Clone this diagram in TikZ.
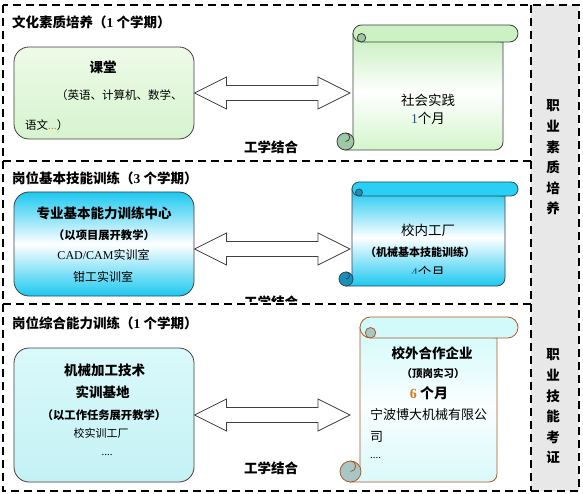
\documentclass[tikz,border=0pt]{standalone}
\usepackage{fontspec}
\setmainfont{Noto Sans CJK SC}
\newfontfamily\lat{Liberation Serif}
\usetikzlibrary{calc}
\definecolor{edge}{HTML}{404040}
\definecolor{colgray}{HTML}{E8E8E8}
\definecolor{gA}{HTML}{EEFAE8}
\definecolor{gB}{HTML}{D6F4CE}
\definecolor{gbar}{HTML}{CCF2C4}
\definecolor{gbody}{HTML}{C4EEBC}
\definecolor{gbody2}{HTML}{D4F5CC}
\definecolor{gcurl}{HTML}{9CC8A2}
\definecolor{cy}{HTML}{1CC8F0}
\definecolor{cybar}{HTML}{28D0F6}
\definecolor{cycurl}{HTML}{1890B8}
\definecolor{cyedge}{HTML}{304858}
\definecolor{pcA}{HTML}{DAF9FA}
\definecolor{pcB}{HTML}{C4F1F5}
\definecolor{pbar}{HTML}{D2FAFA}
\definecolor{pcurl}{HTML}{A8C6C6}
\definecolor{brownedge}{HTML}{B05A28}
\definecolor{numblue}{HTML}{1E4E8C}
\definecolor{numorange}{HTML}{D87A1A}
\tikzset{
  dline/.style={line width=1.8pt, dash pattern=on 8pt off 5pt},
  lbox/.style={draw=edge, line width=0.8pt, rounded corners=15pt, minimum width=180pt, inner sep=0pt},
  hd/.style={font=\fontsize{13.5}{16}\selectfont\bfseries, inner sep=0pt},
  sub/.style={font=\fontsize{11.3}{14}\selectfont\bfseries, inner sep=0pt},
  txt/.style={font=\fontsize{12}{14}\selectfont, inner sep=0pt},
  big/.style={font=\fontsize{13.5}{16}\selectfont, inner sep=0pt},
  arr/.style={draw=edge, fill=white, line width=0.8pt},
  vert/.style={font=\fontsize{13.5}{20.6}\selectfont\bfseries, align=center, inner sep=0pt},
  hole/.style={inner sep=0pt, outer sep=0pt},
}
% scroll: #1 Lb, #2 R, #3 T, #4 B, #5 d, #6 Rb
\newcommand\myscroll[6]{%
  \pgfmathsetmacro\sr{#5/2}%
  \pgfmathsetmacro\scx{#1-\sr+1}%
  \path[scbody] (#1,#3+\sr) -- (#1,#4-\sr) -- (\scx,#4) -- (#6-8,#4)
     arc[start angle=90,end angle=0,radius=8] -- (#6,#3+#5) -- cycle;
  \path[scbar, rounded corners=\sr pt] (#1,#3) rectangle (#2,#3+#5);
  \path[sccurl] (#1+\sr,#3+1.5*\sr) circle[radius=\sr/2];
  \path[sccurl] (\scx,#4-\sr) circle[radius=\sr];
  \path[scline] (\scx,#4-\sr) arc[start angle=90,end angle=-90,radius=\sr/2];
}
\newcommand\dbarrow[2]{%
  \draw[arr] let \p1=(#1), \p2=(#2) in
   (\x1,\y1) -- (\x1+32pt,\y1+16pt) -- (\x1+32pt,\y1+7.5pt) -- (\x2-32pt,\y1+7.5pt)
   -- (\x2-32pt,\y1+16pt) -- (\x2,\y1) -- (\x2-32pt,\y1-16pt) -- (\x2-32pt,\y1-7.5pt)
   -- (\x1+32pt,\y1-7.5pt) -- (\x1+32pt,\y1-16pt) -- cycle;}
\begin{document}
\begin{tikzpicture}[x=1pt,y=-1pt]
\useasboundingbox (0,0) rectangle (583,494);
\fill[white] (0,0) rectangle (583,494);
% frame
\fill[colgray] (531,5) rectangle (579,491);
\draw[dline] (3,5) rectangle (579,491);
\draw[dline] (531,5) -- (531,491);
\draw[dline] (3,161) -- (531,161);
\draw[dline] (3,304) -- (531,304);
\node[vert] (v1) at (553,157.5) {职\\业\\素\\质\\培\\养};
\node[vert] (v2) at (553,406.5) {职\\业\\技\\能\\考\\证};

% section titles
\node[hd, anchor=west] (h1) at (12,22) {文化素质培养（{\lat 1} 个学期）};
\node[hd, anchor=west] (h2) at (12,178) {岗位基本技能训练（{\lat 3} 个学期）};
\node[hd, anchor=west] (h3) at (12,323) {岗位综合能力训练（{\lat 1} 个学期）};

% left boxes
\node[lbox, top color=gA, bottom color=gB, minimum height=92pt] (b1) at (104,93) {};
\node[lbox, top color=cy, bottom color=cy, middle color=white, minimum height=104pt] (b2) at (104,244) {};
\node[lbox, top color=pcA, bottom color=pcB, minimum height=134pt] (b3) at (104,415) {};

\node[hd] (b1a) at (103,67) {课堂};
\node[font=\fontsize{11.5}{14}\selectfont, inner sep=0pt, anchor=west] (b1b) at (56,95) {（英语、计算机、数学、};
\node[font=\fontsize{11.5}{14}\selectfont, inner sep=0pt, anchor=west] (b1c) at (25,125) {语文{\lat\color{numorange}...}）};

\node[hd] (b2a) at (104,213) {专业基本能力训练中心};
\node[sub] (b2b) at (104,235) {（以项目展开教学）};
\node[txt] (b2c) at (103.5,255) {{\lat CAD/CAM}实训室};
\node[txt] (b2d) at (103,277) {钳工实训室};

\node[hd] (b3a) at (104.5,370) {机械加工技术};
\node[hd] (b3b) at (102.5,392) {实训基地};
\node[sub] (b3c) at (104,415) {（以工作任务展开教学）};
\node[font=\fontsize{11}{14}\selectfont, inner sep=0pt] (b3d) at (101,433) {校实训工厂};
\node[font=\fontsize{11}{14}\selectfont\lat, inner sep=0pt] (b3e) at (107,455) {....};

% scroll 1
\begin{scope}[scbody/.style={draw=edge, line width=0.8pt, top color=gbody, bottom color=gbody2, middle color=white},
  scbar/.style={draw=edge, line width=0.8pt, fill=gbar},
  sccurl/.style={draw=edge, line width=0.8pt, fill=gcurl},
  scline/.style={draw=edge, line width=0.8pt}]
\myscroll{353}{518}{25}{150}{17}{503}
\end{scope}
\node[hole, minimum width=150pt, minimum height=108pt] (s1) at (428,96) {};
\node[big] (s1a) at (428,100) {社会实践};
\node[big] (s1b) at (428,118) {{\lat\color{numblue}1}个月};

% scroll 2
\begin{scope}[scbody/.style={draw=cyedge, line width=0.8pt, top color=cy, bottom color=cy, middle color=white},
  scbar/.style={draw=cyedge, line width=0.8pt, fill=cybar},
  sccurl/.style={draw=cyedge, line width=0.8pt, fill=cycurl},
  scline/.style={draw=cyedge, line width=0.8pt}]
\myscroll{352}{518}{182}{286}{14}{505}
\end{scope}
\node[hole, minimum width=153pt, minimum height=97pt] (s2) at (428.5,241) {};
\node[big] (s2a) at (428,230) {校内工厂};
\node[font=\fontsize{11}{14}\selectfont\bfseries, inner sep=0pt] (s2b) at (420,252) {（机械基本技能训练）};
\begin{scope}
\clip (300,180) rectangle (520,273.5);
\node[big] (s2c) at (428,272.5) {{\lat\color{numblue}4}个月};
\end{scope}

% scroll 3
\begin{scope}[scbody/.style={draw=brownedge, line width=0.8pt, top color=pbar, bottom color=pcA, middle color=white!85!pcA},
  scbar/.style={draw=brownedge, line width=0.8pt, fill=pbar},
  sccurl/.style={draw=brownedge, line width=0.8pt, fill=pcurl},
  scline/.style={draw=brownedge, line width=0.8pt}]
\myscroll{360}{518}{317}{482}{21}{497}
\end{scope}
\node[hole, minimum width=137pt, minimum height=155pt] (s3) at (428.5,405) {};
\node[hd] (s3a) at (432,353) {校外合作企业};
\node[font=\fontsize{10.5}{13}\selectfont\bfseries, inner sep=0pt] (s3b) at (433,373) {（顶岗实习）};
\node[font=\fontsize{14}{16}\selectfont\bfseries, inner sep=0pt] (s3c) at (429,393) {{\lat\color{numorange}6} 个月};
\node[font=\fontsize{13}{15}\selectfont, inner sep=0pt, anchor=west] (s3d) at (370,415) {宁波博大机械有限公};
\node[font=\fontsize{13}{15}\selectfont, inner sep=0pt, anchor=west] (s3e) at (370,437) {司};
\node[font=\fontsize{11}{14}\selectfont\lat, inner sep=0pt, anchor=west] (s3f) at (370,458) {....};

% double arrows
\dbarrow{b1.east}{$(s1.west)+(-3,0)$}
\dbarrow{$(b2.east)+(0,5)$}{$(s2.west)+(-2,0)$}
\dbarrow{b3.east}{$(s3.west)+(-10,0)$}

% labels
\node[hd] (w1) at (271,147) {工学结合};
\begin{scope}
\clip (200,280) rectangle (340,301);
\node[hd] (w2) at (271,302) {工学结合};
\end{scope}
\node[hd] (w3) at (271,468) {工学结合};
\end{tikzpicture}
\end{document}
